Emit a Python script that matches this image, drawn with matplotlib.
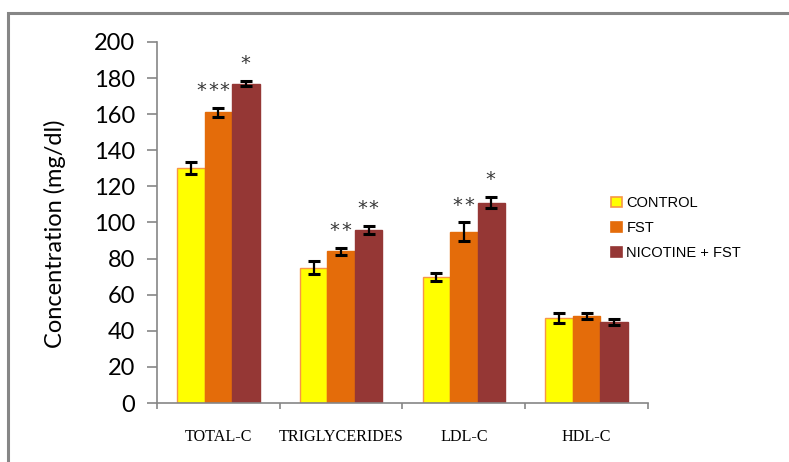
import matplotlib
matplotlib.use("Agg")
import matplotlib.pyplot as plt
import numpy as np
from matplotlib.patches import Rectangle, Patch

categories = ["TOTAL-C", "TRIGLYCERIDES", "LDL-C", "HDL-C"]
groups = ["CONTROL", "FST", "NICOTINE + FST"]
control = [130, 75, 70, 47]
fst = [161, 84, 95, 48]
nic_fst = [177, 96, 111, 45]
control_err = [3.3, 3.8, 2.2, 2.6]
fst_err = [2.5, 2.0, 5.0, 1.7]
nic_fst_err = [1.4, 2.3, 3.0, 1.7]
fst_stars = [3, 2, 2, 0]
nic_fst_stars = [1, 2, 1, 0]

colors = ["#FFFF00", "#E46C0A", "#953735"]
edges = ["#F79646", "#E46C0A", "#953735"]
grey = "#868686"

W, H = 789, 462
fig = plt.figure(figsize=(W / 100, H / 100), dpi=100)
fig.patches.append(Rectangle((8 / W, -0.1), 2.0, 1.1 - 13 / H, transform=fig.transFigure,
                             fill=False, edgecolor=grey, linewidth=2.2))

ax = fig.add_axes([157 / W, 59 / H, 491 / W, 361 / H])
x = np.arange(len(categories))
bw = 0.224
series = [control, fst, nic_fst]
errs = [control_err, fst_err, nic_fst_err]
for i, (vals, err) in enumerate(zip(series, errs)):
    pos = x + (i - 1) * bw
    ax.bar(pos, vals, width=bw, color=colors[i], edgecolor=edges[i], linewidth=1.0,
           label=groups[i], zorder=2)
    ax.errorbar(pos, vals, yerr=err, fmt="none", ecolor="black", elinewidth=1.6,
                capsize=4.4, capthick=2.2, zorder=3)

# significance asterisks, one glyph each, spaced evenly over the bar
for i, (vals, err, counts) in enumerate([(fst, fst_err, fst_stars), (nic_fst, nic_fst_err, nic_fst_stars)]):
    pos = x + i * bw
    for p, v, e, n in zip(pos, vals, err, counts):
        shift = -4.0 if n == 3 else -0.5
        for k in range(n):
            dx = (k - (n - 1) / 2) * 8.4 + shift
            ax.annotate("*", (p, v + e), xytext=(dx, 8.5), textcoords="offset points",
                        ha="center", va="baseline", fontsize=14, color="#383838", zorder=5)

ax.set_xlim(-0.5, 3.5)
ax.set_ylim(0, 200)
ax.set_yticks(np.arange(0, 201, 20))
ax.set_xticks(x)
ax.set_xticklabels(categories, family="Liberation Serif", fontsize=11.6)
ax.set_xticks(np.arange(-0.5, 3.6, 1), minor=True)
ax.tick_params(axis="x", which="major", length=0, pad=19)
ax.tick_params(axis="x", which="minor", length=4.5, width=1.2, color=grey, direction="out")
ax.tick_params(axis="y", length=7, width=1.2, color=grey, direction="out", pad=9, labelsize=17)
for lab in ax.get_yticklabels():
    lab.set_family("Lato")

for s in ["top", "right"]:
    ax.spines[s].set_visible(False)
for s in ["left", "bottom"]:
    ax.spines[s].set_color(grey)
    ax.spines[s].set_linewidth(1.2)

ax.set_ylabel("Concentration (mg/dl)", family="Lato", fontsize=17)
ax.yaxis.set_label_coords(-0.185, 0.468)

handles = [Patch(facecolor=colors[i], edgecolor=edges[i], linewidth=1.2) for i in range(3)]
fig.legend(handles, groups, loc="upper left", bbox_to_anchor=(598 / W, 1 - 183 / H),
           frameon=False, prop={"family": "Liberation Sans", "size": 10.5},
           handlelength=0.75, handleheight=0.75, handletextpad=0.3, labelspacing=0.75)

fig.savefig("out.png", dpi=100)
